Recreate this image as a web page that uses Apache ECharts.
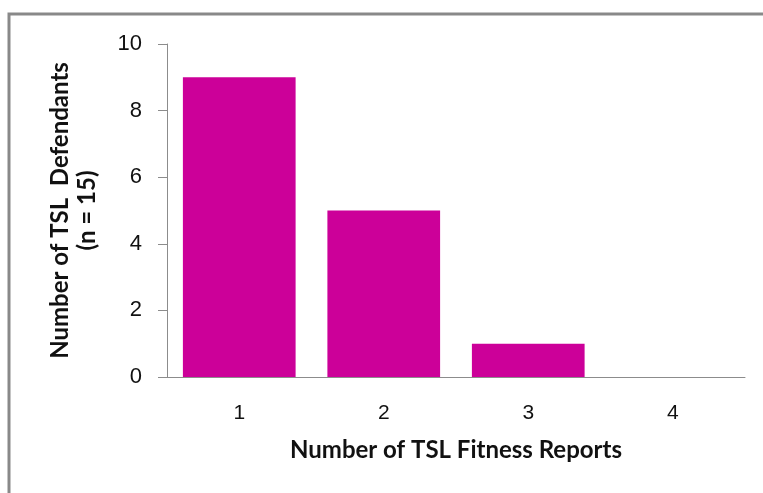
<!DOCTYPE html>
<html>
<head>
<meta charset="utf-8">
<script src="https://cdn.jsdelivr.net/npm/echarts@6/dist/echarts.min.js"></script>
<style>
  html, body { margin: 0; padding: 0; background: #fff; }
  #chart { width: 763px; height: 493px; }
</style>
</head>
<body>
<div id="chart"></div>
<script>
// Report counts per defendant
const categories = ['1', '2', '3', '4'];
const defendants = [9, 5, 1, 0];
const yTicks = { min: 0, max: 10, interval: 2 };

const axisGray = '#8c8c8c';
const chart = echarts.init(document.getElementById('chart'), null, { renderer: 'canvas' });

chart.setOption({
  backgroundColor: '#ffffff',
  animation: false,
  graphic: [{
    type: 'polyline',
    shape: { points: [[9, 493], [9, 14], [763, 14]] },
    style: { stroke: '#898989', lineWidth: 3, fill: null },
    silent: true
  }],
  grid: { left: 167, top: 44, right: 18, bottom: 116 },
  xAxis: {
    type: 'category',
    data: categories,
    name: 'Number of TSL Fitness Reports',
    nameLocation: 'middle',
    nameGap: 61,
    nameTextStyle: { fontFamily: 'Lato', fontWeight: 'bold', fontSize: 24, color: '#111' },
    axisLine: { lineStyle: { color: axisGray, width: 1 } },
    axisTick: { show: false },
    axisLabel: { margin: 26, fontFamily: 'Liberation Sans', fontSize: 21, color: '#111' }
  },
  yAxis: {
    type: 'value',
    min: yTicks.min,
    max: yTicks.max,
    interval: yTicks.interval,
    name: 'Number of TSL  Defendants\n(n = 15)',
    nameLocation: 'middle',
    nameGap: 66,
    nameTextStyle: { fontFamily: 'Lato', fontWeight: 'bold', fontSize: 24, color: '#111', lineHeight: 27, align: 'center' },
    axisLine: { show: true, lineStyle: { color: axisGray, width: 1 } },
    axisTick: { show: true, length: 9, lineStyle: { color: axisGray } },
    splitLine: { show: false },
    axisLabel: { margin: 25, fontFamily: 'Liberation Sans', fontSize: 22, color: '#111' }
  },
  series: [{
    type: 'bar',
    data: defendants,
    barWidth: '78%',
    itemStyle: { color: '#cc0099' }
  }]
});
</script>
</body>
</html>
